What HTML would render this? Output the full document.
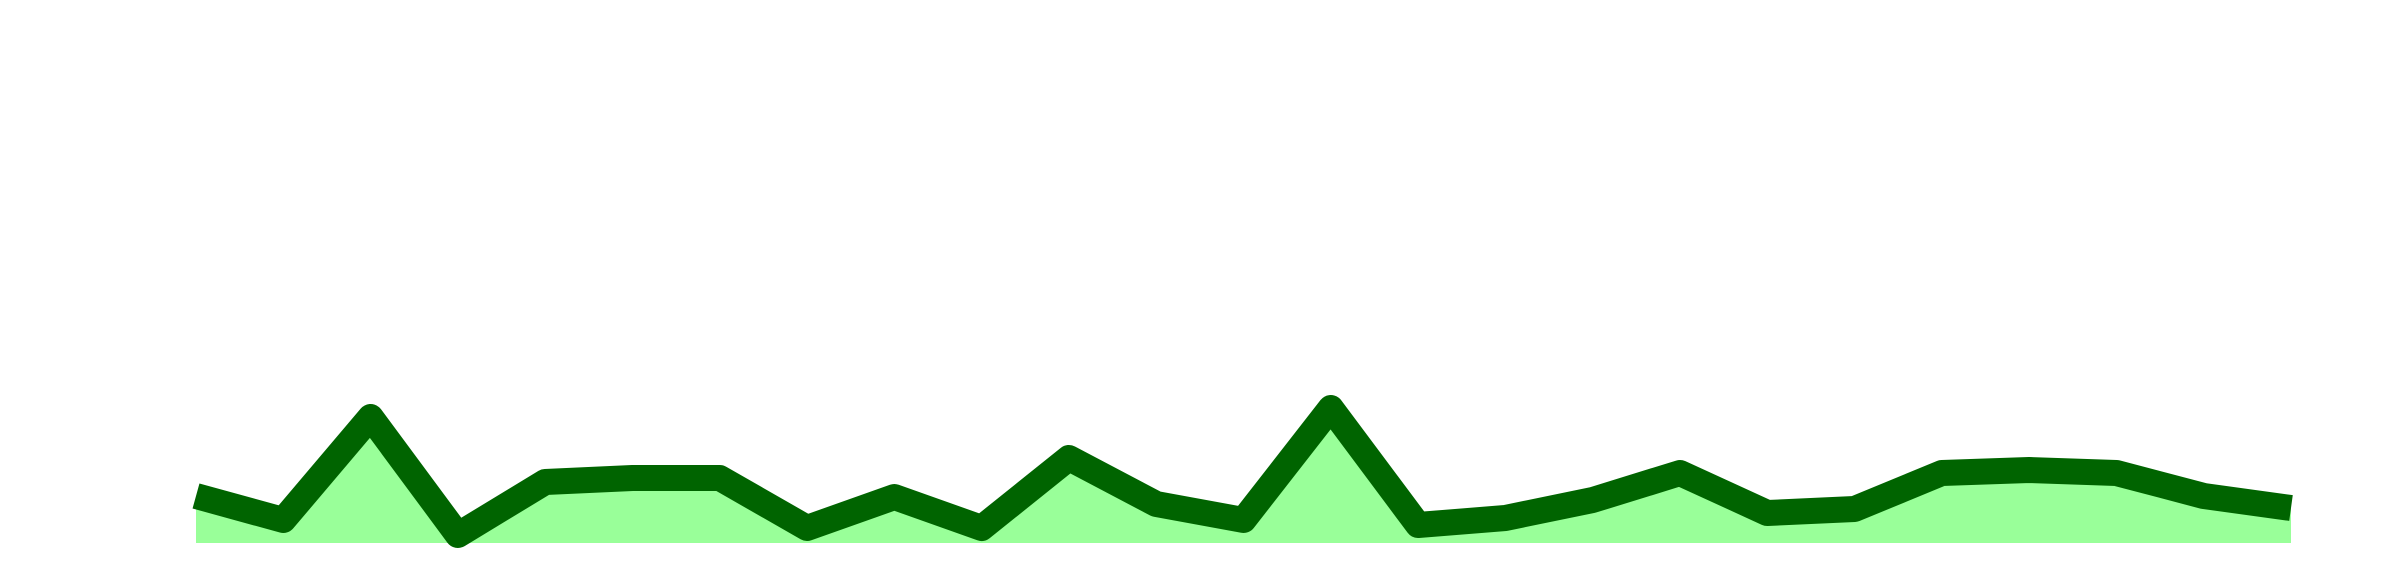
<!DOCTYPE html>
<html><head><meta charset="utf-8"><style>
html,body{margin:0;padding:0;background:#fff;}
svg{display:block;}
</style></head><body>
<svg id="chart" width="2400" height="570" viewBox="0 0 2400 570" xmlns="http://www.w3.org/2000/svg">
<path id="area" fill="#99ff99" stroke="none"/>
<path id="line" fill="none" stroke="#006400" stroke-width="26" stroke-linejoin="round" stroke-linecap="butt"/>
</svg>
<script>
const categories = Array.from({length:25},(_,i)=>i);
const values = [47,23,126,8,61,65,65,15,46,15,85,39,23,135,18,25,43,70,30,34,70,73,70,47,35];
const x0 = 196, x1 = 2291, base = 543;
function xScale(i){ return x0 + (x1 - x0) * i / (categories.length - 1); }
function yScale(v){ return base - v; }
let d = '';
values.forEach((v,i)=>{ d += (i? 'L':'M') + xScale(i) + ' ' + yScale(v) + ' '; });
document.getElementById('line').setAttribute('d', d);
document.getElementById('area').setAttribute('d', d + 'L' + xScale(values.length-1) + ' ' + base + ' L' + xScale(0) + ' ' + base + ' Z');
</script>
</body></html>
